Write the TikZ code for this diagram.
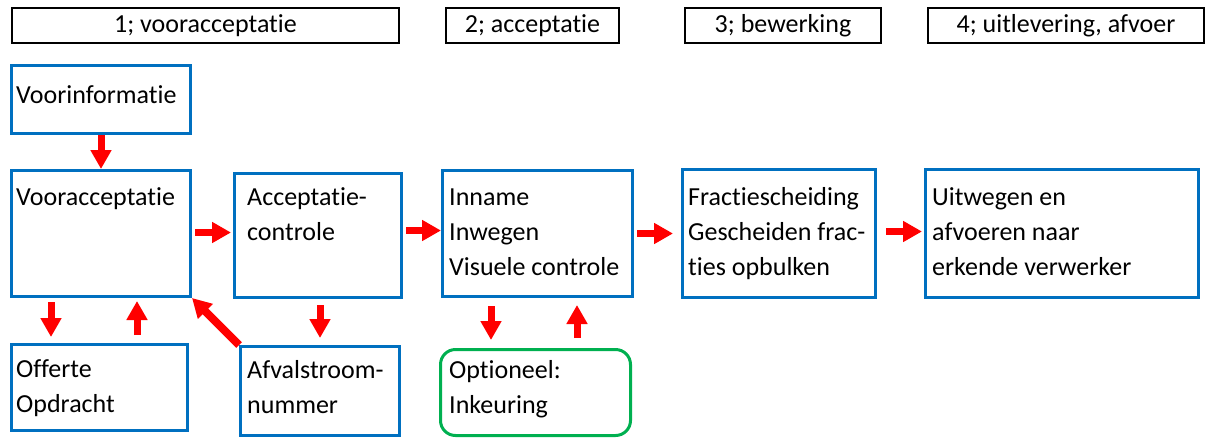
\documentclass[tikz,border=0pt]{standalone}
\usepackage{fontspec}
\setmainfont{Carlito}[Ligatures=NoCommon]
\usetikzlibrary{arrows.meta,calc}
\definecolor{bblue}{HTML}{0070C0}
\definecolor{bgreen}{HTML}{00B050}
\begin{document}
\begin{tikzpicture}[x=1pt,y=-1pt,
  every node/.style={font=\fontsize{26}{35}\selectfont},
  hdr/.style={draw=black,line width=2pt,inner sep=0pt,anchor=north west},
  bbox/.style={draw=bblue,line width=3pt,inner sep=0pt,anchor=north west},
  gbox/.style={draw=bgreen,line width=3pt,rounded corners=15pt,inner sep=0pt,anchor=north west},
  txt/.style={inner sep=0pt,anchor=base west,align=left},
  rarr/.style={draw=red,line width=7pt,-{Triangle[width=20pt,length=19pt]}}]
\useasboundingbox (0,0) rectangle (1205,437);
% headers
\node[hdr,minimum width=387pt,minimum height=35pt] (h1) at (11,7) {1; vooracceptatie};
\node[hdr,minimum width=173pt,minimum height=35pt] (h2) at (445,7) {2; acceptatie};
\node[hdr,minimum width=196pt,minimum height=35pt] (h3) at (684,7) {3; bewerking};
\node[hdr,minimum width=276pt,minimum height=35pt] (h4) at (927,7) {4; uitlevering, afvoer};
% boxes
\node[bbox,minimum width=179pt,minimum height=68pt] (vi) at (10,64) {};
\node[bbox,minimum width=179pt,minimum height=126pt] (va) at (10,169) {};
\node[bbox,minimum width=167pt,minimum height=124pt] (ac) at (233,172) {};
\node[bbox,minimum width=176pt,minimum height=86pt] (of) at (10,343) {};
\node[bbox,minimum width=159pt,minimum height=89pt] (af) at (239,345) {};
\node[bbox,minimum width=190pt,minimum height=126pt] (in) at (441,169) {};
\node[gbox,minimum width=190pt,minimum height=86pt] (op) at (439,348) {};
\node[bbox,minimum width=193pt,minimum height=128pt] (fr) at (681,168) {};
\node[bbox,minimum width=273pt,minimum height=128pt] (uw) at (924,168) {};
% texts (base anchor = baseline of last line)
\node[txt] (vit) at (16,103) {Voorinformatie};
\node[txt] (vat) at (16,205) {Vooracceptatie};
\node[txt] (act) at (247,240) {Acceptatie-\\controle};
\node[txt] (oft) at (16,412) {Offerte\\Opdracht};
\node[txt] (aft) at (247,413) {Afvalstroom-\\nummer};
\node[txt] (int) at (449,275) {Inname\\Inwegen\\Visuele controle};
\node[txt] (opt) at (449,413) {Optioneel:\\Inkeuring};
\node[txt] (frt) at (688,275) {Fractiescheiding\\Gescheiden frac-\\ties opbulken};
\node[txt] (uwt) at (932,275) {Uitwegen en\\afvoeren naar\\erkende verwerker};
% arrows
\draw[rarr] (vi.south) -- (va.north);
\draw[rarr,shorten <=3pt,shorten >=2pt] ([yshift=1pt]va.east) -- ([yshift=1pt]va.east -| ac.west);
\draw[rarr,shorten <=3pt] ([yshift=3pt]in.west -| ac.east) -- ([yshift=3pt]in.west);
\draw[rarr,shorten <=3pt,shorten >=8pt] (in.east) -- (fr.west);
\draw[rarr,shorten <=9pt,shorten >=2pt] ([yshift=2pt]fr.east) -- ([yshift=2pt]uw.west);
\draw[rarr,shorten <=4pt,shorten >=6pt] ([xshift=41pt]va.south west) -- ([xshift=41pt]va.south west |- of.north);
\draw[rarr,shorten <=8pt,shorten >=3pt] ([xshift=127pt]va.south west |- of.north) -- ([xshift=127pt]va.south west);
\draw[rarr,line width=8pt] (af.north west) -- (va.south east);
\draw[rarr,shorten <=6pt,shorten >=7pt] (af.north |- ac.south) -- (af.north);
\draw[rarr,shorten <=8pt,shorten >=8pt] ([xshift=50pt]in.south west) -- ([xshift=50pt]in.south west |- op.north);
\draw[rarr,shorten <=10pt,shorten >=7pt] ([xshift=136pt]in.south west |- op.north) -- ([xshift=136pt]in.south west);
\end{tikzpicture}
\end{document}
